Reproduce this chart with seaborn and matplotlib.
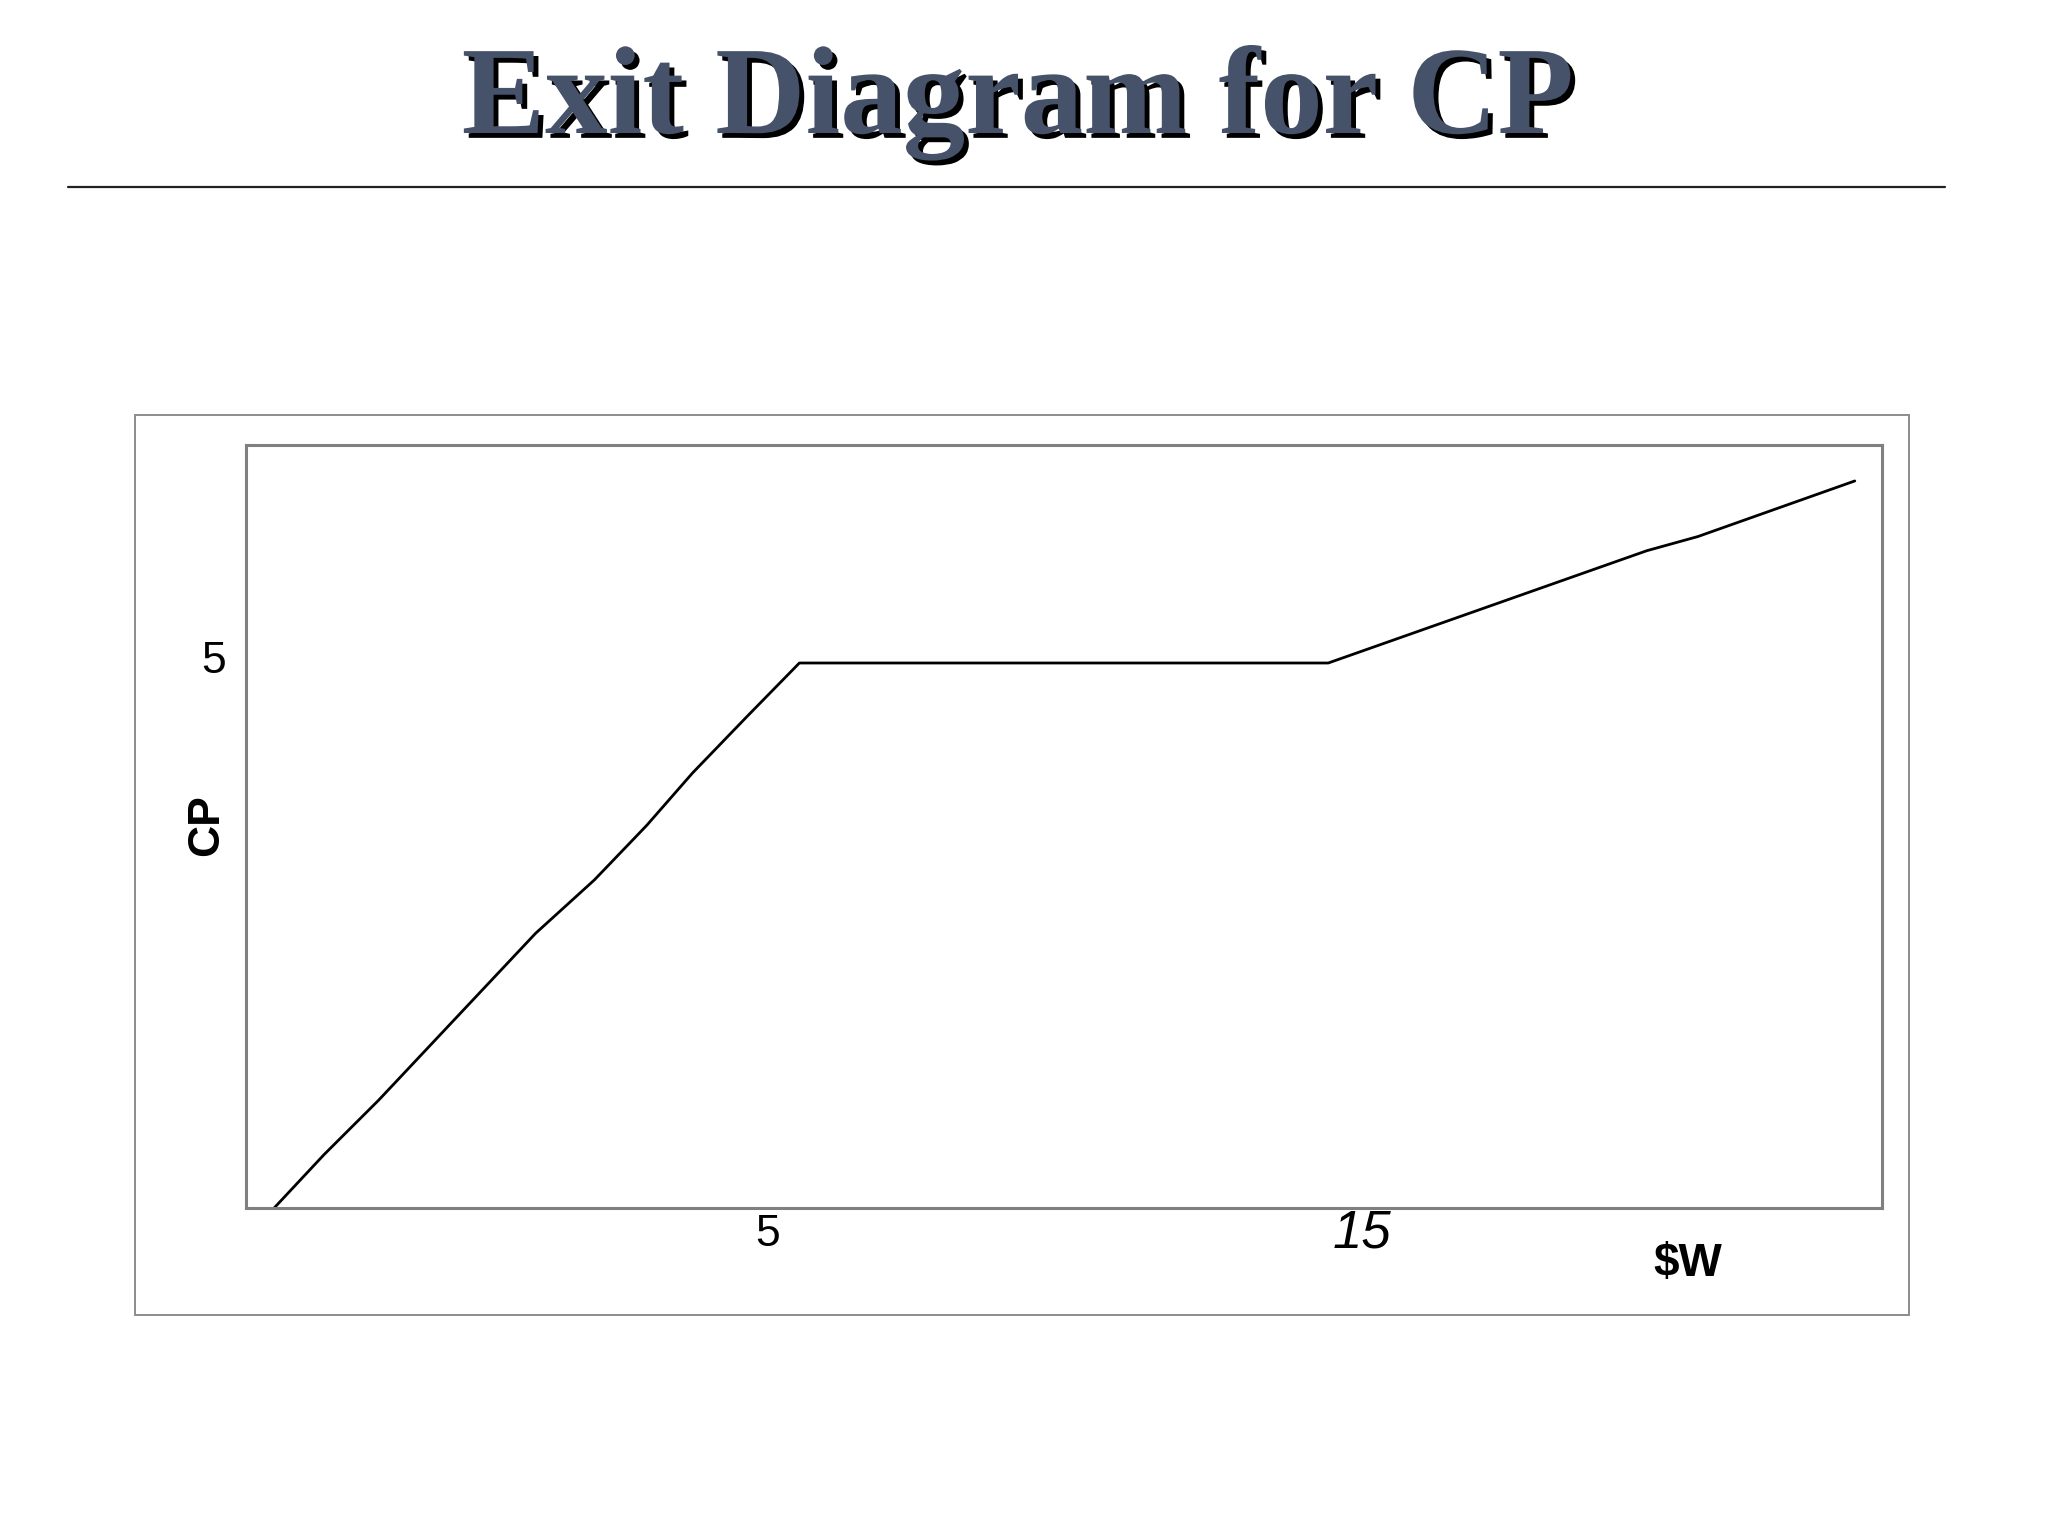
import matplotlib
matplotlib.use("Agg")
import matplotlib.pyplot as plt
import matplotlib.patheffects as pe
import matplotlib.transforms as mtransforms
from matplotlib.patches import Rectangle
from matplotlib.lines import Line2D
import seaborn as sns
import pandas as pd

# ---- data ----
title_text = "Exit Diagram for CP"
x_label = "$W"
y_label = "CP"
w_values = [-3.31, -2.47, -1.55, -0.67, 0.21, 1.09, 2.08, 2.96, 3.73, 4.65,
            5.53, 14.43, 19.79, 20.65, 23.29]
cp_values = [0.0, 0.49, 0.99, 1.50, 2.01, 2.52, 3.01, 3.51, 3.99, 4.51,
             5.0, 5.0, 6.03, 6.16, 6.67]
x_ticks = [5, 15]
x_tick_labels = ["5", "15"]
y_ticks = [5]
y_tick_labels = ["5"]

sns.set_theme(style="white")
plt.rcParams["font.family"] = ["Liberation Sans", "DejaVu Sans"]

fig = plt.figure(figsize=(20.48, 15.36), dpi=100)
fig.patch.set_facecolor("white")

ax = fig.add_axes([0.1199, 0.2135, 0.919 - 0.1199, 0.7103 - 0.2135])

df = pd.DataFrame({"W": w_values, "CP": cp_values})
sns.lineplot(data=df, x="W", y="CP", sort=False, estimator=None,
             color="black", linewidth=2.0, ax=ax)

ax.set_xlim(-3.79, 23.75)
ax.set_ylim(0, 7.0)

for s in ax.spines.values():
    s.set_color("#808080")
    s.set_linewidth(2.2)

ax.set_xticks(x_ticks)
ax.set_xticklabels(x_tick_labels)
ax.set_yticks(y_ticks)
ax.set_yticklabels(y_tick_labels)
ax.tick_params(axis="x", length=0, pad=4, labelsize=32, colors="black")
ax.tick_params(axis="y", length=0, pad=14, labelsize=32, colors="black")
xtl = ax.get_xticklabels()
xtl[1].set_fontstyle("italic")
xtl[1].set_fontsize(38)
xtl[1].set_transform(xtl[1].get_transform() +
                     mtransforms.ScaledTranslation(0, 4 / 72, fig.dpi_scale_trans))
for lbl in ax.get_yticklabels():
    lbl.set_transform(lbl.get_transform() +
                      mtransforms.ScaledTranslation(0, 4.5 / 72, fig.dpi_scale_trans))

ax.set_xlabel(x_label, fontsize=33, fontweight="bold", color="black", va="center")
ax.xaxis.set_label_coords(0.881, -0.073)
ax.set_ylabel(y_label, fontsize=32, fontweight="bold", color="black", va="center")
ax.yaxis.set_label_coords(-0.024, 0.502)

# outer chart frame
fig.add_artist(Rectangle((0.0657, 0.1439), 0.932 - 0.0657, 0.7298 - 0.1439,
                         transform=fig.transFigure, fill=False,
                         edgecolor="#8c8c8c", linewidth=1.4))

# horizontal rule below title
fig.add_artist(Line2D([68 / 2048, 1945 / 2048], [1 - 187 / 1536, 1 - 187 / 1536],
                      transform=fig.transFigure, color="#222222", linewidth=1.6))

# title with shadow
fig.text(0.497, 1 - 133 / 1536, title_text, ha="center", va="baseline",
         fontsize=90, fontweight="bold", color="#45526A",
         family=["Liberation Serif", "DejaVu Serif"],
         path_effects=[pe.SimplePatchShadow(offset=(3.5, -3.5), shadow_rgbFace="black", alpha=1.0),
                       pe.Normal()])

fig.savefig("out.png", dpi=100, facecolor="white")
